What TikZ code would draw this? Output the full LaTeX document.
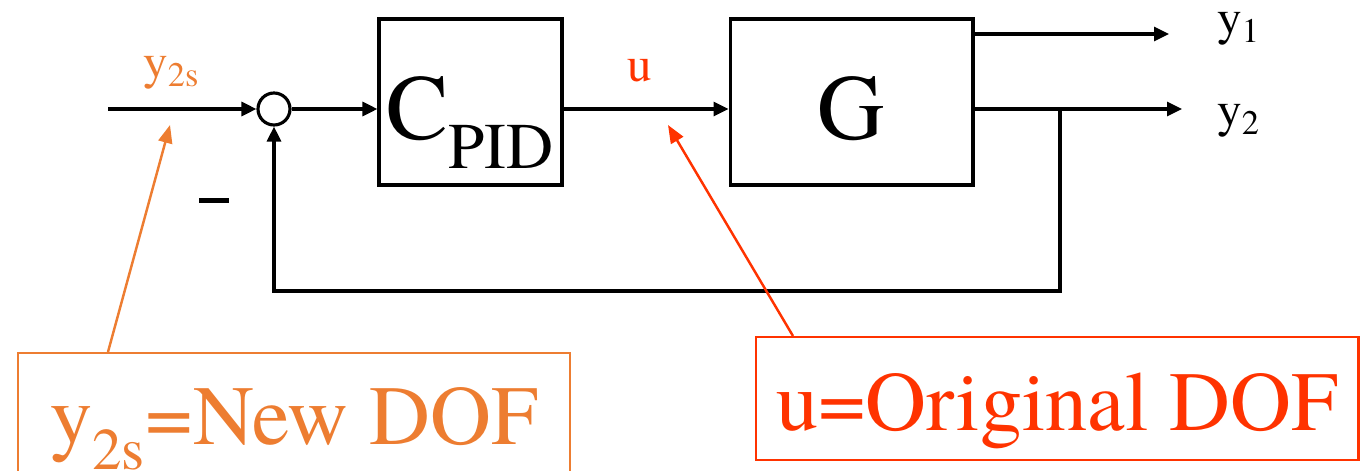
\documentclass[tikz,border=0pt]{standalone}
\usepackage{fontspec}
\setmainfont{texgyretermes}[Extension=.otf, UprightFont=*-regular, BoldFont=*-bold, ItalicFont=*-italic, BoldItalicFont=*-bolditalic]
\usetikzlibrary{arrows.meta, positioning}
\definecolor{NewOrange}{HTML}{ED7D31}
\definecolor{OrigRed}{HTML}{FF3300}

\begin{document}
\begin{tikzpicture}[
      x=0.02cm, y=-0.02cm,
      block/.style={rectangle, draw, line width=1.8pt, inner sep=0pt, text height=2.42cm, text depth=0.9cm, font=\fontsize{53}{60}\selectfont},
      sumnode/.style={circle, draw, line width=1.8pt, minimum size=0.64cm, inner sep=0pt},
      signal/.style={inner sep=0pt, anchor=base west, font=\fontsize{28}{32}\selectfont},
      arrow/.style={-{Triangle[length=0.3cm, width=0.28cm]}, line width=1.8pt},
      callout/.style={rectangle, draw, line width=1.4pt, inner ysep=0pt, anchor=north west, font=\fontsize{48}{56}\selectfont},
      callarrow/.style={-{Triangle[length=0.36cm, width=0.28cm]}, line width=1.4pt},
  ]
  \useasboundingbox (0,0) rectangle (1361,470);

  % Loop
  \node[sumnode] (sum) at (274,109) {};
  \node[block, minimum width=3.66cm] (cpid) at (470.5,102) {C\textsubscript{PID}};
  \node[block, minimum width=4.86cm, right=3.3cm of cpid] (g) {G};
  \node[fill, minimum width=0.6cm, minimum height=0.1cm, inner sep=0pt] (minus) at (214,200) {};

  % Signals
  \node[signal, text=NewOrange] (ysl) at (143,78) {y\textsubscript{2s}};
  \node[signal, anchor=base, text=OrigRed] (ul) at (640,81) {u};
  \node[signal] (y1l) at (1217,34) {y\textsubscript{1}};
  \node[signal] (y2l) at (1217,126) {y\textsubscript{2}};

  % Arrows
  \coordinate (ysin) at (108,109);
  \coordinate (y1end) at (1169,34);
  \coordinate (y2end) at (1182,109);
  \draw[arrow] (ysin) -- (sum);
  \draw[arrow] (sum) -- (sum -| cpid.west);
  \draw[arrow] (cpid.east |- sum) -- (sum -| g.west);
  \draw[arrow] (g.east |- y1end) -- (y1end);
  \draw[arrow] (g.east |- y2end) -- (y2end);

  % Feedback of y2
  \coordinate (tap) at (1060,109);
  \coordinate (fbcorner) at (1060,291);
  \draw[arrow] (tap) -- (fbcorner) -| (sum.south);

  % Callouts
  \node[callout, draw=NewOrange, text=NewOrange, minimum width=11.04cm, text height=1.82cm, text depth=2cm] (newdof) at (17,352) {y\textsubscript{2s}=New DOF};
  \node[callout, draw=OrigRed, text=OrigRed, inner xsep=0.4cm, text height=1.86cm, text depth=0.6cm] (origdof) at (755,336) {u=Original DOF};

  \coordinate (ystip) at (170,125);
  \coordinate (utip) at (668,125);
  \draw[callarrow, NewOrange] ([xshift=1.82cm]newdof.north west) -- (ystip);
  \draw[callarrow, OrigRed] ([xshift=0.76cm]origdof.north west) -- (utip);

  \end{tikzpicture}
\end{document}
